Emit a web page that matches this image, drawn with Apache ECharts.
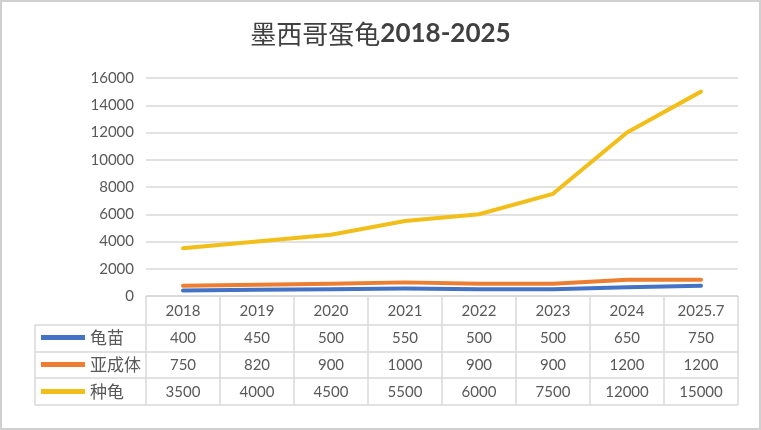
<!DOCTYPE html>
<html><head><meta charset="utf-8">
<script src="https://cdn.jsdelivr.net/npm/echarts@6/dist/echarts.min.js"></script>
<style>html,body{margin:0;padding:0;background:#fff}#c{width:761px;height:430px}</style>
</head><body><div id="c"></div>
<script>
const categories = ['2018','2019','2020','2021','2022','2023','2024','2025.7'];
const seedlings = [400,450,500,550,500,500,650,750];
const subadults = [750,820,900,1000,900,900,1200,1200];
const breeders = [3500,4000,4500,5500,6000,7500,12000,15000];
const seriesNames = ['龟苗','亚成体','种龟'];
const colors = ['#4472C4','#ED7D31','#F2BE1A'];

const G = {left:146, right:23, top:78, bottom:134};
const W = 761, H = 430;
const gx0 = G.left, gx1 = W - G.right, gy0 = H - G.bottom;
const rowH = [29, 27, 26, 27];
const tableLeft = 35;
const txt = '#595959', gridC = '#D9D9D9';
const font = '"Lato","Noto Sans CJK SC",sans-serif';

const rows = [seedlings, subadults, breeders];
const offsets = [27, 54, 81];

const xAxes = [{
  type:'category', data:categories, boundaryGap:true, position:'bottom',
  axisLine:{show:true, lineStyle:{color:gridC, width:1}}, axisTick:{show:false},
  axisLabel:{color:txt, fontSize:15, fontFamily:font, margin:8}
}];
rows.forEach((r,i)=>{
  xAxes.push({
    type:'category', data:r.map(String), boundaryGap:true, position:'bottom', offset:offsets[i],
    axisLine:{show:false}, axisTick:{show:false}, splitLine:{show:false},
    axisLabel:{color:txt, fontSize:15, fontFamily:font, margin:8}
  });
});

const graphics = [];
graphics.push({type:'rect', shape:{x:1,y:1,width:W-2,height:H-2}, style:{fill:'none', stroke:'#D0D0D0', lineWidth:2}, silent:true});
let y = gy0;
const ys = [y];
rowH.forEach(h=>{ y += h; ys.push(y); });
ys.forEach((yy,i)=>{
  graphics.push({type:'line', shape:{x1: i===0?gx0:tableLeft, y1:yy, x2:gx1, y2:yy}, style:{stroke:gridC, lineWidth:1.5}, silent:true});
});
const colW = (gx1-gx0)/categories.length;
for(let i=0;i<=categories.length;i++){
  const xx = gx0 + i*colW;
  graphics.push({type:'line', shape:{x1:xx, y1:gy0, x2:xx, y2:ys[ys.length-1]}, style:{stroke:gridC, lineWidth:1.5}, silent:true});
}
graphics.push({type:'line', shape:{x1:tableLeft, y1:ys[1], x2:tableLeft, y2:ys[ys.length-1]}, style:{stroke:gridC, lineWidth:1.5}, silent:true});

const option = {
  backgroundColor:'#fff',
  animation:false,
  title:{
    text:'{a|墨西哥蛋龟}{b|2018-2025}', left:'center', top:16,
    textStyle:{rich:{
      a:{fontSize:26, color:'#404040', fontWeight:'normal', fontFamily:'"Noto Sans CJK SC",sans-serif'},
      b:{fontSize:26, color:'#404040', fontWeight:'bold', fontFamily:'"Lato","Open Sans",sans-serif'}
    }}
  },
  color:colors,
  legend:{
    orient:'vertical', left:36, top:ys[1]-1, itemGap:10, itemWidth:44, itemHeight:14,
    data:seriesNames, icon:'path://M0,0 L44,0 L44,5 L0,5 Z',
    textStyle:{color:txt, fontSize:17, fontFamily:'"Noto Sans CJK SC",sans-serif', padding:[0,0,0,0]}
  },
  grid:{left:G.left, right:G.right, top:G.top, bottom:G.bottom, containLabel:false},
  xAxis:xAxes,
  yAxis:{
    type:'value', min:0, max:16000, interval:2000,
    axisLine:{show:false}, axisTick:{show:false},
    axisLabel:{color:txt, fontSize:15, fontFamily:font, margin:12, formatter:v=>String(v)},
    splitLine:{lineStyle:{color:gridC, width:1.5}}
  },
  series: seriesNames.map((n,i)=>({
    name:n, type:'line', data:rows[i], xAxisIndex:0, symbol:'none',
    lineStyle:{width:4, color:colors[i], cap:'round', join:'round'}, z:5-i
  })),
  graphic:graphics
};
const chart = echarts.init(document.getElementById('c'), null, {renderer:'canvas'});
chart.setOption(option);
</script></body></html>
